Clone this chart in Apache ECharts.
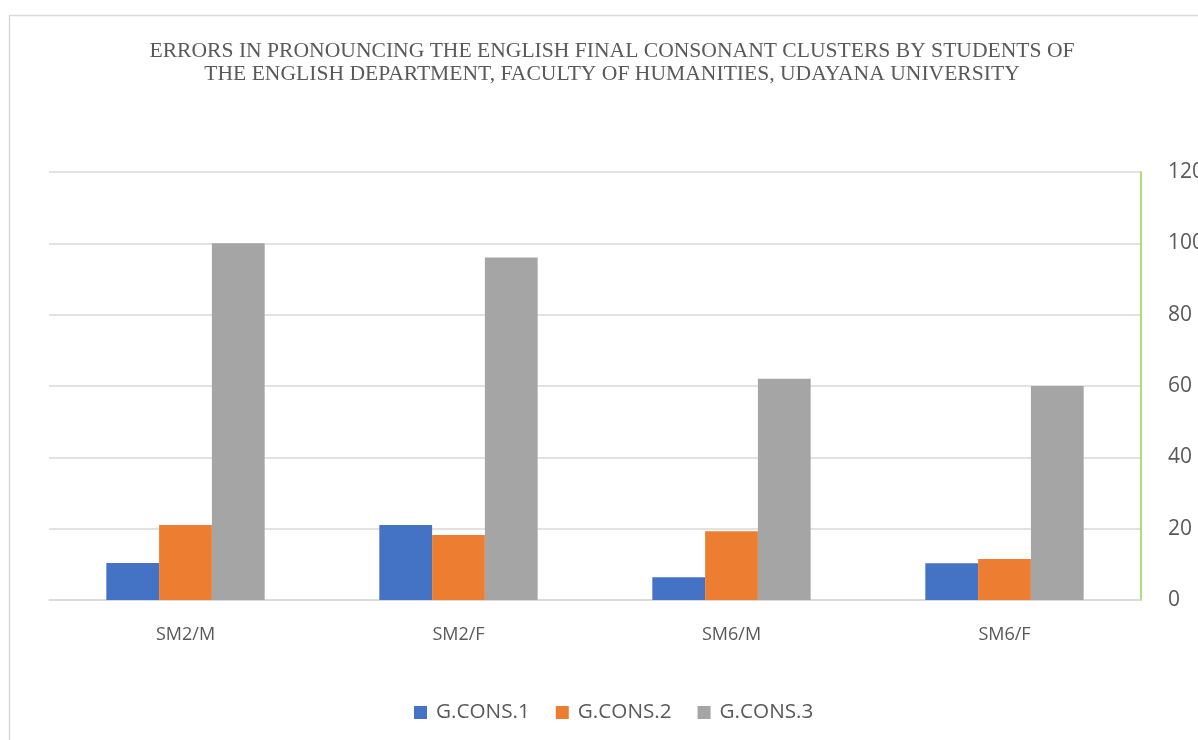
<!DOCTYPE html>
<html>
<head>
<meta charset="utf-8">
<script src="https://cdn.jsdelivr.net/npm/echarts@6/dist/echarts.min.js"></script>
<style>
  html, body { margin: 0; padding: 0; background: #fff; }
  #chart { width: 1198px; height: 740px; }
</style>
</head>
<body>
<div id="chart"></div>
<script>
// Groups of students (semester / gender)
const categories = ['SM2/M', 'SM2/F', 'SM6/M', 'SM6/F'];
// Error counts per consonant-cluster group
const gCons1 = [10.4, 21, 6.4, 10.3];
const gCons2 = [21, 18.2, 19.3, 11.5];
const gCons3 = [100, 96, 62, 60];
const seriesNames = ['G.CONS.1', 'G.CONS.2', 'G.CONS.3'];
const yTicks = { min: 0, max: 120, interval: 20 };

const colors = ['#4472C4', '#ED7D31', '#A5A5A5'];
const textColor = '#595959';
const sansFont = '"Open Sans", "Liberation Sans", sans-serif';

const chart = echarts.init(document.getElementById('chart'), null, { renderer: 'canvas' });

const values = [gCons1, gCons2, gCons3];

chart.setOption({
  animation: false,
  backgroundColor: '#fff',
  graphic: [{
    type: 'rect',
    shape: { x: 9.5, y: 15.5, width: 1300, height: 800 },
    style: { fill: 'none', stroke: '#d9d9d9', lineWidth: 1.5 },
    silent: true,
    z: -1
  }],
  title: {
    text: 'ERRORS IN PRONOUNCING THE ENGLISH FINAL CONSONANT CLUSTERS BY STUDENTS OF\nTHE ENGLISH DEPARTMENT, FACULTY OF HUMANITIES, UDAYANA UNIVERSITY',
    left: 607,
    textAlign: 'center',
    top: 35,
    textStyle: {
      fontFamily: '"Liberation Serif", "DejaVu Serif", serif',
      fontWeight: 'normal',
      fontSize: 21.6,
      lineHeight: 23,
      color: textColor
    }
  },
  legend: {
    data: seriesNames,
    left: 414,
    top: 702,
    padding: 0,
    itemWidth: 17,
    itemHeight: 13,
    itemGap: 26,
    // square swatch with a little extra room before the text
    icon: 'path://M0,0H13V13H0Z M17,13L17,13',
    textStyle: {
      fontFamily: sansFont,
      fontSize: 20.7,
      color: textColor
    }
  },
  grid: {
    left: 49, right: 57, top: 172, bottom: 140,
    containLabel: false,
    outerBoundsMode: 'none'
  },
  xAxis: {
    type: 'category',
    data: categories,
    axisLine: { show: true, lineStyle: { color: '#d9d9d9', width: 1.5 } },
    axisTick: { show: false },
    axisLabel: {
      margin: 26,
      fontFamily: sansFont,
      fontSize: 18,
      color: textColor
    }
  },
  yAxis: {
    type: 'value',
    position: 'right',
    min: yTicks.min,
    max: yTicks.max,
    interval: yTicks.interval,
    axisLine: { show: true, lineStyle: { color: '#92D050', width: 1.5 } },
    axisTick: { show: false },
    splitLine: { lineStyle: { color: '#d9d9d9', width: 1.5 } },
    axisLabel: {
      margin: 27,
      fontFamily: sansFont,
      fontSize: 21,
      color: textColor
    }
  },
  series: seriesNames.map((name, i) => ({
    name: name,
    type: 'bar',
    data: values[i],
    barGap: '0%',
    barCategoryGap: '42%',
    itemStyle: { color: colors[i] }
  }))
});
</script>
</body>
</html>
